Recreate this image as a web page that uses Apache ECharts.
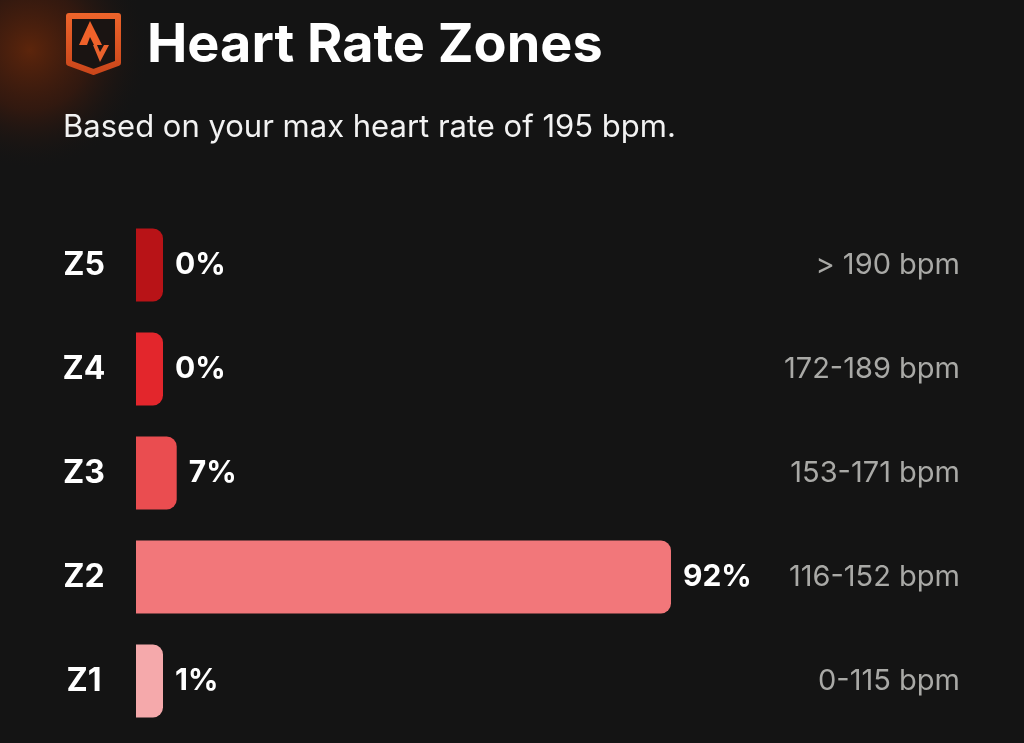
<!DOCTYPE html>
<html><head><meta charset="utf-8">
<style>html,body{margin:0;padding:0;background:#141414}#c{width:1024px;height:743px}</style>
<script src="https://cdn.jsdelivr.net/npm/echarts@6/dist/echarts.min.js"></script>
</head><body><div id="c"></div>
<script>
const zones = ['Z1','Z2','Z3','Z4','Z5'];
const shares = [1,92,7,0,0];
const ranges = ['0-115 bpm','116-152 bpm','153-171 bpm','172-189 bpm','> 190 bpm'];
const colors = ['#f5a9ab','#f2777a','#ea4d50','#e3262c','#b81317'];
const FONT = 'Inter, "Noto Sans", sans-serif';
const chart = echarts.init(document.getElementById('c'), null, {renderer:'canvas'});
const orange = new echarts.graphic.LinearGradient(0,0,0,1,[{offset:0,color:'#ee642b'},{offset:1,color:'#c9451a'}]);
chart.setOption({
  backgroundColor:'#141414',
  animation:false,
  title:[
    {text:'Heart Rate Zones',left:147,top:16,padding:0,textStyle:{color:'#fff',fontFamily:FONT,fontSize:54,fontWeight:700,lineHeight:60}},
    {text:'Based on your max heart rate of 195 bpm.',left:63,top:110,padding:0,textStyle:{color:'#f2f2f2',fontFamily:FONT,fontSize:31,fontWeight:400,lineHeight:36}}
  ],
  grid:{left:136,width:824,top:213,height:520,containLabel:false},
  xAxis:{type:'value',min:0,max:141.7,show:false},
  yAxis:[
    {type:'category',data:zones,axisLine:{show:false},axisTick:{show:false},
     axisLabel:{color:'#fff',fontFamily:FONT,fontSize:32,fontWeight:700,align:'center',margin:52}},
    {type:'category',position:'right',data:ranges,axisLine:{show:false},axisTick:{show:false},
     axisLabel:{inside:true,margin:0,color:'#a9a9a6',fontFamily:FONT,fontSize:29,fontWeight:400}}
  ],
  series:[{
    type:'bar',yAxisIndex:0,barWidth:73,barMinHeight:27,
    data:shares.map((v,i)=>({value:v,itemStyle:{color:colors[i]}})),
    itemStyle:{borderRadius:[0,10,10,0]},
    label:{show:true,position:'right',distance:12,formatter:'{c}%',color:'#fff',fontFamily:FONT,fontSize:30,fontWeight:700}
  }],
  graphic:[
    {type:'circle',silent:true,z:-1,shape:{cx:30,cy:50,r:120},
     style:{fill:new echarts.graphic.RadialGradient(0.5,0.5,0.5,[{offset:0,color:'rgba(105,40,10,0.85)'},{offset:0.5,color:'rgba(85,30,10,0.45)'},{offset:1,color:'rgba(20,20,20,0)'}])}},
    {type:'polygon',silent:true,shape:{points:[[69,16],[118,16],[118,63],[93.5,72],[69,63]]},
     style:{fill:'#1a1412',stroke:orange,lineWidth:6,lineJoin:'round'}},
    {type:'polygon',silent:true,shape:{points:[[90,21],[79,45],[87,45],[90,37],[94,45],[102,45]]},style:{fill:'#f0622a'}},
    {type:'polygon',silent:true,shape:{points:[[93,45],[100,62],[109,45],[104,45],[100,52],[97,45]]},style:{fill:'#e8612c'}}
  ]
});
</script></body></html>
